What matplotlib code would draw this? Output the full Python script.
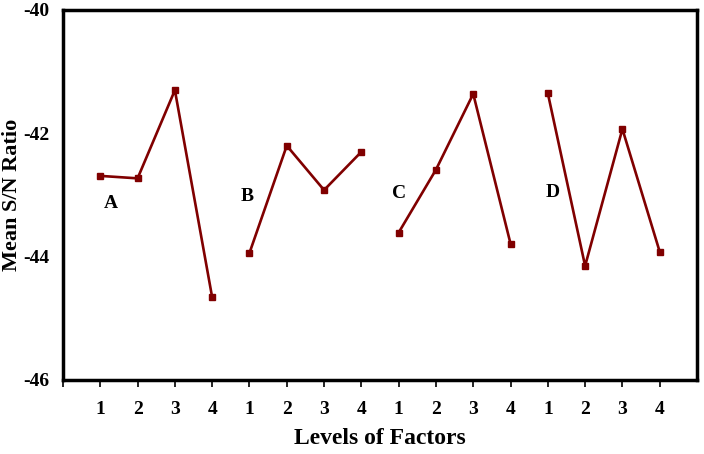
import matplotlib
matplotlib.use("Agg")
import matplotlib.pyplot as plt

factors = ["A", "B", "C", "D"]
levels = ["1", "2", "3", "4"]
sn_A = [-42.69, -42.73, -41.30, -44.66]
sn_B = [-43.94, -42.20, -42.92, -42.30]
sn_C = [-43.61, -42.59, -41.36, -43.79]
sn_D = [-41.35, -44.15, -41.93, -43.92]
series = [sn_A, sn_B, sn_C, sn_D]
label_pos = [(1.29, -43.13), (4.93, -43.02), (9.01, -42.97), (13.14, -42.96)]
yticks = [-40, -42, -44, -46]

plt.rcParams['font.family'] = ['Liberation Serif', 'DejaVu Serif']
plt.rcParams['font.weight'] = 'bold'

fig = plt.figure(figsize=(7.04, 4.54), dpi=100)
ax = fig.add_axes([63/704, 1-380/454, (697-63)/704, (380-10)/454])

color = "#800000"
for i, vals in enumerate(series):
    xs = [4*i + k + 1 for k in range(len(vals))]
    ax.plot(xs, vals, color=color, lw=1.9, marker='s', ms=4.5, mfc=color, mec=color)
    ax.text(label_pos[i][0], label_pos[i][1], factors[i], fontsize=14, fontweight='bold',
            ha='center', va='center')

ax.set_xlim(0, 17)
ax.set_ylim(-46, -40)
ax.set_yticks(yticks)
ax.set_yticklabels([str(t) for t in yticks], fontsize=14, fontweight='bold')
xt = list(range(0, 17))
ax.set_xticks(xt)
ax.set_xticklabels([""] + levels * 4, fontsize=14, fontweight='bold')
ax.tick_params(axis='y', length=0, pad=10)
ax.tick_params(axis='x', length=5, width=1.2, pad=10)
for s in ax.spines.values():
    s.set_linewidth(2.5)
ax.set_xlabel("Levels of Factors", fontsize=17, fontweight='bold', labelpad=7)
ax.set_ylabel("Mean S/N Ratio", fontsize=16, fontweight='bold')
ax.yaxis.set_label_coords(-0.064, 0.5)

fig.savefig("out.png", dpi=100)
